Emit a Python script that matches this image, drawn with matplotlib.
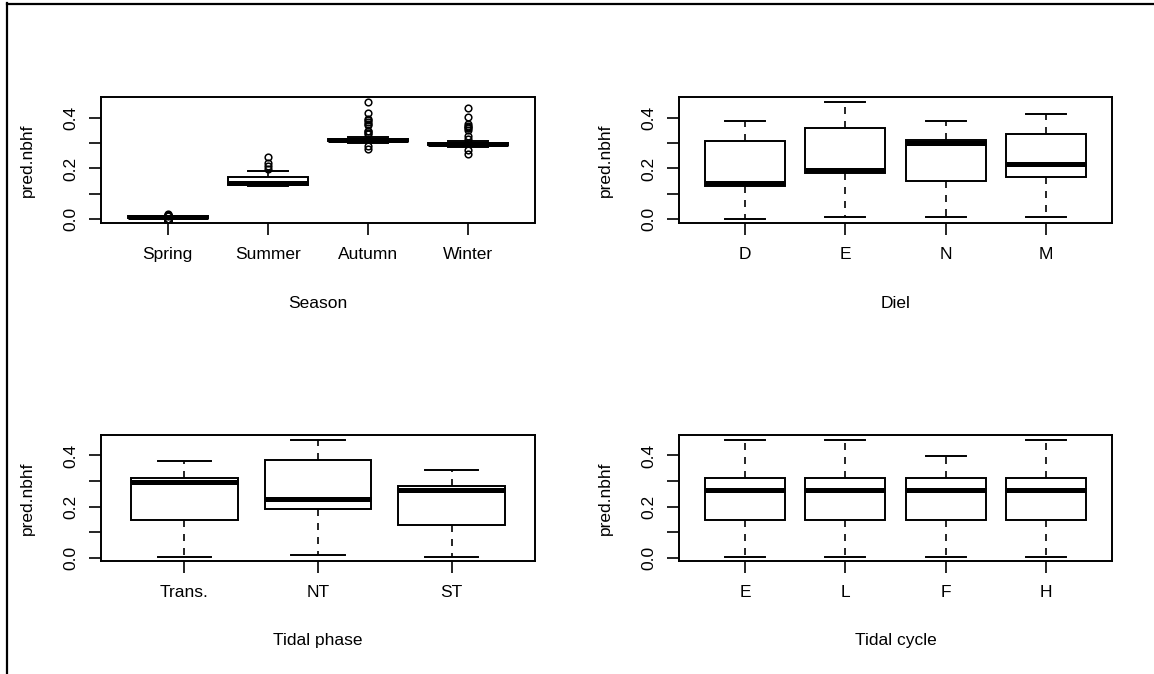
import matplotlib
matplotlib.use("Agg")
import matplotlib.pyplot as plt
from matplotlib.lines import Line2D

plt.rcParams['font.family'] = ['Liberation Sans', 'DejaVu Sans']
plt.rcParams['font.size'] = 12.5

# Season
season_cats = ['Spring', 'Summer', 'Autumn', 'Winter']
season_q1 = [0.005, 0.136, 0.309, 0.294]
season_med = [0.007, 0.142, 0.313, 0.297]
season_q3 = [0.010, 0.166, 0.318, 0.301]
season_lo = [0.003, 0.132, 0.300, 0.285]
season_hi = [0.012, 0.189, 0.326, 0.310]
season_out = [
    [-0.008, -0.007, -0.006, -0.005, -0.004, -0.003, -0.002, -0.001, 0.000, 0.001,
     0.013, 0.014, 0.015, 0.016, 0.017, 0.018],
    [0.198, 0.210, 0.222, 0.246],
    [0.277, 0.290, 0.338, 0.341, 0.347, 0.350, 0.374, 0.378, 0.383, 0.390, 0.396, 0.420, 0.463],
    [0.259, 0.272, 0.317, 0.327, 0.354, 0.360, 0.363, 0.367, 0.378, 0.403, 0.440],
]

# Diel
diel_cats = ['D', 'E', 'N', 'M']
diel_q1 = [0.131, 0.182, 0.149, 0.166]
diel_med = [0.141, 0.192, 0.300, 0.218]
diel_q3 = [0.309, 0.359, 0.314, 0.338]
diel_lo = [0.000, 0.008, 0.008, 0.008]
diel_hi = [0.387, 0.462, 0.387, 0.417]

# Tidal phase
phase_cats = ['Trans.', 'NT', 'ST']
phase_q1 = [0.146, 0.191, 0.129]
phase_med = [0.295, 0.231, 0.266]
phase_q3 = [0.310, 0.384, 0.282]
phase_lo = [0.004, 0.010, 0.004]
phase_hi = [0.378, 0.459, 0.345]

# Tidal cycle
cycle_cats = ['E', 'L', 'F', 'H']
cycle_q1 = [0.146, 0.146, 0.146, 0.146]
cycle_med = [0.266, 0.266, 0.266, 0.266]
cycle_q3 = [0.310, 0.310, 0.310, 0.310]
cycle_lo = [0.004, 0.004, 0.004, 0.004]
cycle_hi = [0.459, 0.459, 0.397, 0.459]


def make_stats(cats, q1, med, q3, lo, hi, out=None):
    stats = []
    for i, c in enumerate(cats):
        stats.append(dict(label=c, q1=q1[i], med=med[i], q3=q3[i],
                          whislo=lo[i], whishi=hi[i],
                          fliers=out[i] if out else []))
    return stats


W, H = 1154, 674
fig = plt.figure(figsize=(W / 100, H / 100), dpi=100)


def panel(left, top, width, height, stats, xlabel, ylim):
    ax = fig.add_axes([left / W, 1 - (top + height) / H, width / W, height / H])
    n = len(stats)
    pos = list(range(1, n + 1))
    ax.bxp(stats, positions=pos, widths=0.8, capwidths=0.4,
           patch_artist=True, showfliers=True,
           boxprops=dict(facecolor='white', edgecolor='black', linewidth=1.4),
           medianprops=dict(color='black', linewidth=3.6, solid_capstyle='butt'),
           whiskerprops=dict(color='black', linewidth=1.2, linestyle=(0, (4.2, 4.2))),
           capprops=dict(color='black', linewidth=1.4),
           flierprops=dict(marker='o', markerfacecolor='none', markeredgecolor='black',
                           markersize=4.8, markeredgewidth=1.1, linestyle='none'))
    span = n
    ax.set_xlim(0.5 - 0.04 * span, n + 0.5 + 0.04 * span)
    ax.set_ylim(*ylim)
    ax.set_xticks(pos)
    ax.set_xticklabels([s['label'] for s in stats])
    ax.set_yticks([0.0, 0.1, 0.2, 0.3, 0.4])
    ax.set_yticklabels(['0.0', '', '0.2', '', '0.4'], rotation=90, va='center')
    ax.tick_params(axis='both', direction='out', length=8.6, width=1.2, colors='black')
    ax.tick_params(axis='x', pad=9)
    ax.tick_params(axis='y', pad=8)
    for s in ax.spines.values():
        s.set_linewidth(1.4)
    ax.set_xlabel(xlabel)
    ax.xaxis.set_label_coords(0.5, -80 / height)
    ax.xaxis.label.set_va('center')
    ax.set_ylabel('pred.nbhf')
    ax.yaxis.set_label_coords(-74 / width, 0.5)
    ax.yaxis.label.set_va('center')
    return ax


panel(101.5, 97, 433, 126,
      make_stats(season_cats, season_q1, season_med, season_q3, season_lo, season_hi, season_out),
      'Season', (-0.016, 0.483))
panel(679, 97, 433, 126,
      make_stats(diel_cats, diel_q1, diel_med, diel_q3, diel_lo, diel_hi),
      'Diel', (-0.016, 0.483))
panel(101.5, 435, 433, 126,
      make_stats(phase_cats, phase_q1, phase_med, phase_q3, phase_lo, phase_hi),
      'Tidal phase', (-0.013, 0.48))
panel(679, 435, 433, 126,
      make_stats(cycle_cats, cycle_q1, cycle_med, cycle_q3, cycle_lo, cycle_hi),
      'Tidal cycle', (-0.013, 0.48))

# screenshot frame (top and left edges)
fig.add_artist(Line2D([7 / W, 7 / W], [0, 1 - 3 / H], transform=fig.transFigure,
                      color='black', linewidth=1.6))
fig.add_artist(Line2D([7 / W, 1], [1 - 3.5 / H, 1 - 3.5 / H], transform=fig.transFigure,
                      color='black', linewidth=1.6))

fig.savefig('out.png', dpi=100)
